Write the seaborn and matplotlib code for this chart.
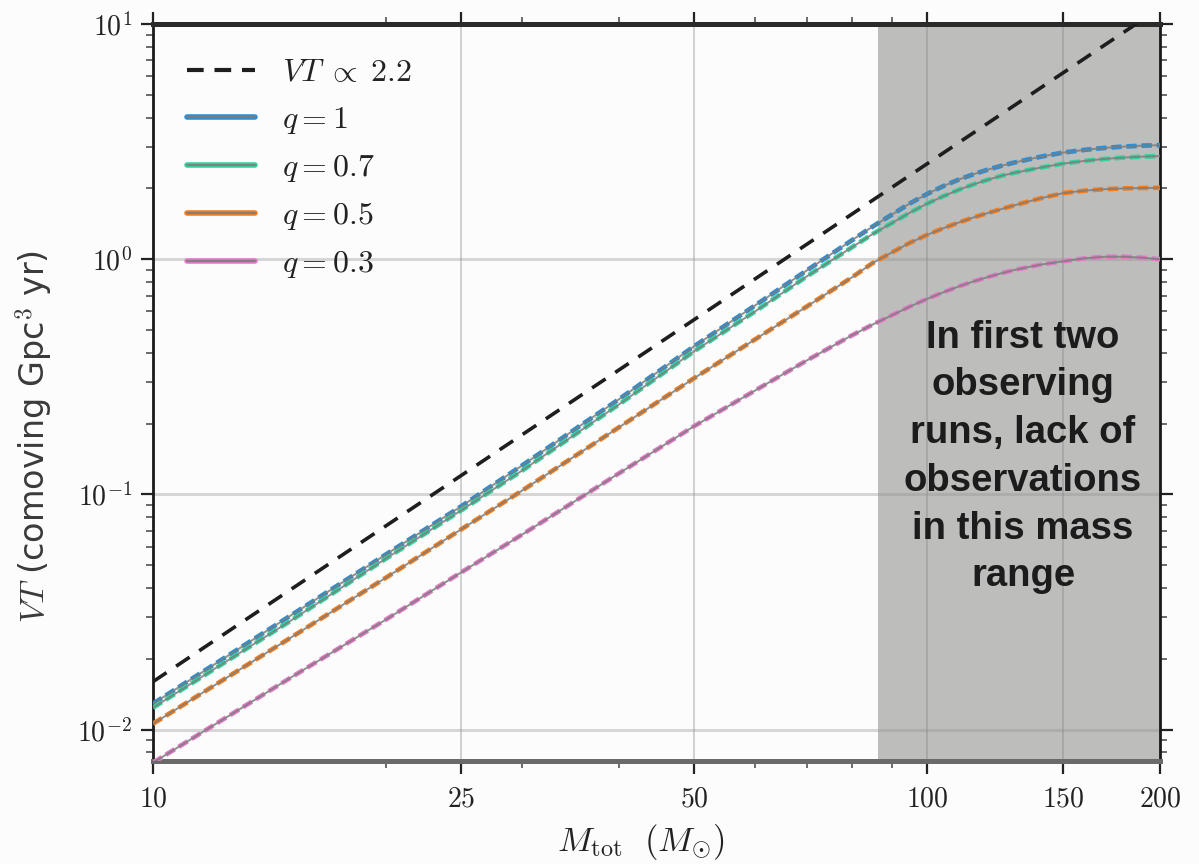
import numpy as np
import pandas as pd
import matplotlib
matplotlib.use("Agg")
import matplotlib.pyplot as plt
import seaborn as sns
from matplotlib.ticker import FixedLocator, FixedFormatter, LogLocator, NullFormatter, FuncFormatter
from matplotlib.lines import Line2D
from matplotlib.legend_handler import HandlerTuple

# Total mass grid (solar masses)
mass = [10, 15, 20, 25, 30, 40, 50, 60, 70, 80, 85, 90, 95, 100, 105, 110, 115,
        120, 125, 130, 140, 150, 160, 170, 180, 190, 200]

# Sensitive spacetime volume VT (comoving Gpc^3 yr) for each mass ratio
vt_q10 = [0.0129, 0.0303, 0.0556, 0.0889, 0.133, 0.254, 0.426, 0.637, 0.898,
          1.205, 1.375, 1.545, 1.726, 1.894, 2.047, 2.184, 2.302, 2.408, 2.500,
          2.582, 2.725, 2.842, 2.918, 2.976, 3.014, 3.041, 3.055]
vt_q07 = [0.0124, 0.0288, 0.0534, 0.0855, 0.1265, 0.2415, 0.406, 0.601, 0.847,
          1.125, 1.278, 1.423, 1.577, 1.722, 1.854, 1.976, 2.085, 2.180, 2.267,
          2.334, 2.451, 2.551, 2.620, 2.672, 2.706, 2.731, 2.744]
vt_q05 = [0.0106, 0.0244, 0.0443, 0.0710, 0.104, 0.193, 0.312, 0.457, 0.631,
          0.838, 0.962, 1.067, 1.174, 1.269, 1.355, 1.434, 1.508, 1.574, 1.637,
          1.699, 1.814, 1.911, 1.958, 1.986, 2.001, 2.009, 2.013]
vt_q03 = [0.00724, 0.0165, 0.0294, 0.0466, 0.0676, 0.123, 0.195, 0.277, 0.372,
          0.475, 0.527, 0.577, 0.629, 0.678, 0.724, 0.767, 0.806, 0.841, 0.873,
          0.902, 0.948, 0.980, 1.010, 1.025, 1.025, 1.015, 1.000]

# Power-law reference VT ∝ M^2.2 (end points)
ref_mass = [10, 200]
ref_vt = [0.0160, 11.7]

q_labels = [r"$q = 1$", r"$q = 0.7$", r"$q = 0.5$", r"$q = 0.3$"]
q_colors = ["#2b8fd6", "#34d29e", "#f47d1e", "#e27ac6"]
q_series = [vt_q10, vt_q07, vt_q05, vt_q03]

# Region lacking observations in the first two observing runs
gap_start, gap_end = 86.5, 200

x_major = [10, 25, 50, 100, 150, 200]
x_major_labels = ["10", "25", "50", "100", "150", "200"]
x_minor = [20, 30, 40, 60, 70, 80, 90]

sns.set_theme(style="ticks")
plt.rcParams["font.family"] = ["DejaVu Sans"]
plt.rcParams["mathtext.fontset"] = "cm"

fig = plt.figure(figsize=(11.99, 8.64), dpi=100)
fig.patch.set_facecolor("#fbfcfb")
ax = fig.add_axes([0.1276, 0.1192, 0.8399, 0.8530])
ax.set_facecolor("#fbfcfb")

ax.axvspan(gap_start, gap_end, color="#bdbebc", zorder=0.3, lw=0)

df = pd.DataFrame({"mass": mass * 4,
                   "vt": sum(q_series, []),
                   "q": sum([[lab] * len(mass) for lab in q_labels], [])})

for lab, col in zip(q_labels, q_colors):
    sub = df[df["q"] == lab]
    sns.lineplot(data=sub, x="mass", y="vt", ax=ax, color=col, lw=3.4,
                 linestyle=(0, (2.2, 1.0)), estimator=None, sort=True,
                 legend=False, zorder=3)
    sns.lineplot(data=sub, x="mass", y="vt", ax=ax, color="#7c7c7c", lw=1.4,
                 alpha=0.85, estimator=None, sort=True, legend=False, zorder=4)

sns.lineplot(x=ref_mass, y=ref_vt, ax=ax, color="#1e1e1e", lw=2.6,
             linestyle=(0, (4.5, 3.2)), legend=False, zorder=5)

ax.set_xscale("log")
ax.set_yscale("log")
ax.set_xlim(10, 200)
ax.set_ylim(0.00736, 10)

ax.xaxis.set_major_locator(FixedLocator(x_major))
ax.xaxis.set_major_formatter(FixedFormatter([f"${s}$" for s in x_major_labels]))
ax.xaxis.set_minor_locator(FixedLocator(x_minor))
ax.xaxis.set_minor_formatter(NullFormatter())
ax.yaxis.set_major_locator(LogLocator(base=10, numticks=10))
ax.yaxis.set_major_formatter(FuncFormatter(lambda v, p: r"$10^{%d}$" % round(np.log10(v))))
ax.yaxis.set_minor_locator(LogLocator(base=10, subs=np.arange(2, 10), numticks=20))
ax.yaxis.set_minor_formatter(NullFormatter())

ax.tick_params(axis="both", which="major", direction="out", length=9, width=1.6,
               labelsize=20, top=True, right=True, color="#222222",
               labelcolor="#222222")
ax.tick_params(axis="both", which="minor", direction="out", length=5, width=1.1,
               top=True, right=True, color="#444444")
ax.tick_params(axis="x", which="major", pad=8)
ax.tick_params(axis="y", which="major", pad=6)

ax.set_axisbelow(True)
ax.grid(True, axis="x", which="major", color="#808080", alpha=0.45, lw=1.1, zorder=0.5)
ax.grid(True, axis="y", which="major", color="#909090", alpha=0.35, lw=2.2, zorder=0.5)
ax.grid(False, which="minor")

for side, lw, col in [("left", 2.0, "#1a1a1a"), ("right", 2.0, "#1a1a1a"),
                      ("top", 3.6, "#2a2a2a"), ("bottom", 3.6, "#6a6a6a")]:
    ax.spines[side].set_visible(True)
    ax.spines[side].set_linewidth(lw)
    ax.spines[side].set_color(col)

ax.set_xlabel(r"$M_{\rm tot}\ \ (M_{\odot})$", fontsize=25, color="#222222")
ax.xaxis.set_label_coords(0.484, -0.083)
ax.set_ylabel(r"$VT$ (comoving Gpc$^3$ yr)", fontsize=24, color="#3a3a3a")
ax.yaxis.set_label_coords(-0.097, 0.44)

ax.text(0.864, 0.4125,
        "In first two\nobserving\nruns, lack of\nobservations\nin this mass\nrange",
        transform=ax.transAxes, ha="center", va="center", fontsize=27.5,
        fontweight="bold", family=["Liberation Sans", "DejaVu Sans"],
        color="#1c1c1c", linespacing=1.42, zorder=6)

# Legend: each q entry pairs the coloured curve with its grey overlay
handles = [Line2D([], [], color="#1e1e1e", lw=3.0, linestyle=(0, (4.0, 2.6)))]
for col in q_colors:
    handles.append((Line2D([], [], color=col, lw=4.0),
                    Line2D([], [], color="#7c7c7c", lw=1.6, alpha=0.85)))
labels = [r"$VT \;\propto\; 2.2$"] + q_labels
leg = ax.legend(handles, labels, loc="upper left", frameon=False, fontsize=23,
                handlelength=2.1, handletextpad=0.85, labelspacing=0.5,
                borderaxespad=0.3, bbox_to_anchor=(0.012, 0.985),
                handler_map={tuple: HandlerTuple(ndivide=1)})
for t in leg.get_texts():
    t.set_color("#222222")

fig.savefig("out.png", dpi=100, facecolor=fig.get_facecolor())
